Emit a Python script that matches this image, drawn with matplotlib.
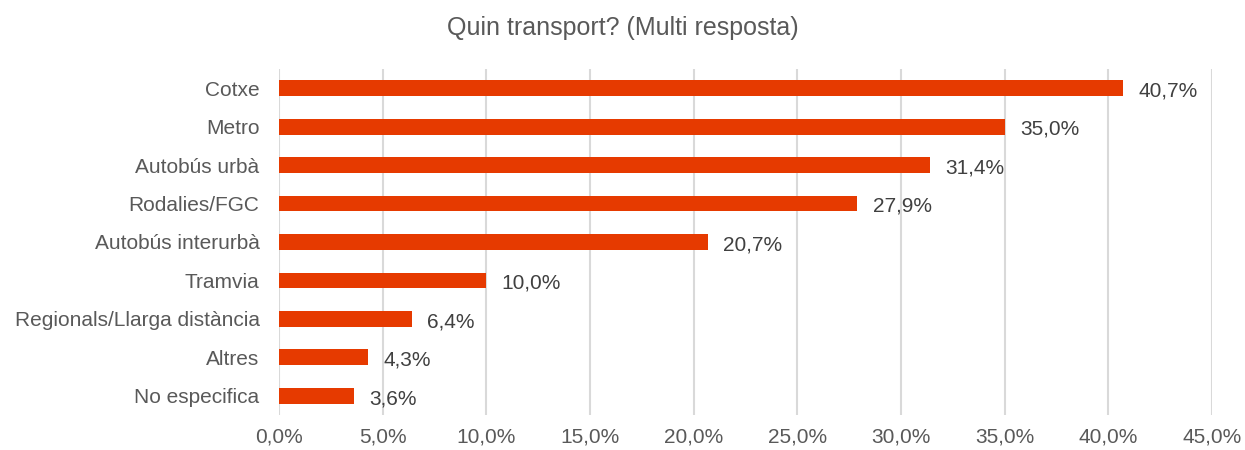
import matplotlib.pyplot as plt
from matplotlib.ticker import FuncFormatter, MultipleLocator

# ---- Data
categories = [
    "Cotxe",
    "Metro",
    "Autobús urbà",
    "Rodalies/FGC",
    "Autobús interurbà",
    "Tramvia",
    "Regionals/Llarga distància",
    "Altres",
    "No especifica",
]
values = [40.7, 35.0, 31.4, 27.9, 20.7, 10.0, 6.4, 4.3, 3.6]

BAR_COLOR = "#E63A00"
GRID_COLOR = "#D9D9D9"
TICK_COLOR = "#595959"
LABEL_COLOR = "#404040"

plt.rcParams["font.family"] = ["Liberation Sans", "DejaVu Sans"]


def pct(v, _=None):
    return f"{v:.1f}%".replace(".", ",")


fig = plt.figure(figsize=(12.45, 4.5), dpi=100)
ax = fig.add_axes([0.2241, 0.0778, 0.7494, 0.7689])

ypos = list(range(len(categories)))
ax.barh(ypos, values, height=0.41, color=BAR_COLOR, zorder=3)

# value labels just right of each bar
for y, v in zip(ypos, values):
    ax.annotate(pct(v), xy=(v, y), xytext=(11, -2), textcoords="offset points",
                ha="left", va="center", fontsize=15, color=LABEL_COLOR)

ax.set_xlim(0, 45)
ax.set_ylim(len(categories) - 0.5, -0.5)
ax.xaxis.set_major_locator(MultipleLocator(5))
ax.xaxis.set_major_formatter(FuncFormatter(pct))
ax.set_yticks(ypos)
ax.set_yticklabels(categories)

ax.grid(axis="x", color=GRID_COLOR, linewidth=1.5, zorder=0)
for s in ax.spines.values():
    s.set_visible(False)
ax.tick_params(axis="both", length=0, labelsize=15, colors=TICK_COLOR)
ax.tick_params(axis="x", pad=9)
ax.tick_params(axis="y", pad=14)

fig.suptitle("Quin transport? (Multi resposta)", y=0.965, fontsize=18, color=TICK_COLOR)

fig.savefig("out.png", dpi=100)
